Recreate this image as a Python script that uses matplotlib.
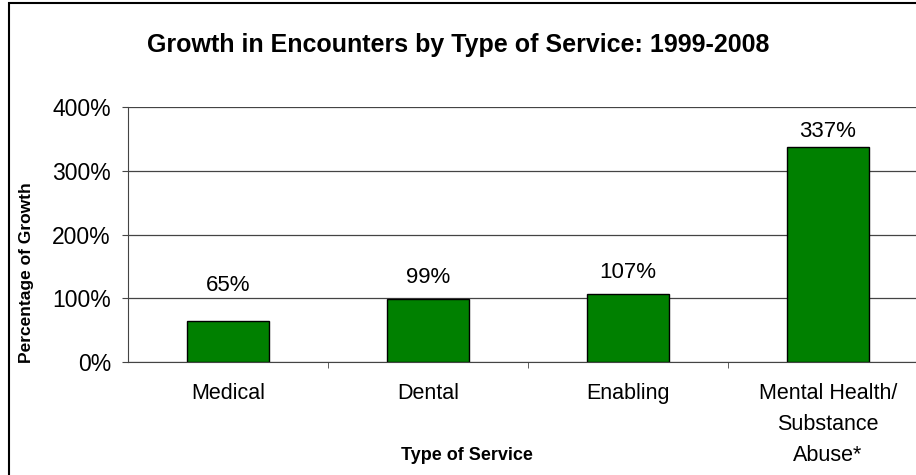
import matplotlib
matplotlib.use("Agg")
import matplotlib.pyplot as plt
from matplotlib.patches import Rectangle
from matplotlib.ticker import FixedLocator

categories = ["Medical", "Dental", "Enabling", "Mental Health/\nSubstance\nAbuse*"]
growth = [65, 99, 107, 337]
value_labels = ["65%", "99%", "107%", "337%"]
yticks = [0, 100, 200, 300, 400]
ytick_labels = ["0%", "100%", "200%", "300%", "400%"]

# label baseline gap above bar top (points) - styling only
label_gaps = [21, 11.5, 11.5, 7]

plt.rcParams['font.family'] = ['Liberation Sans', 'DejaVu Sans']

fig = plt.figure(figsize=(9.16, 4.75), dpi=100)
W, H = 916, 475
ax = fig.add_axes([128 / W, 1 - 362 / H, 800 / W, (362 - 107) / H])

x = list(range(len(categories)))
ax.bar(x, growth, width=0.41, color="#008000", edgecolor="black", linewidth=1.0, zorder=3)
for xi, v, lab, g in zip(x, growth, value_labels, label_gaps):
    ax.annotate(lab, (xi, v), xytext=(0, g), textcoords="offset points",
                ha="center", va="baseline", fontsize=16)

ax.set_xlim(-0.5, 3.5)
ax.set_ylim(0, 400)
ax.set_yticks(yticks)
ax.set_yticklabels(ytick_labels, fontsize=16.5)
ax.set_xticks(x)
ax.set_xticklabels(categories, fontsize=15.5, linespacing=1.62)
ax.tick_params(axis="x", which="major", length=0, pad=15)
ax.xaxis.set_minor_locator(FixedLocator([0.5, 1.5, 2.5]))
ax.tick_params(axis="x", which="minor", length=4.3, direction="out", color="#444444")
ax.tick_params(axis="y", length=4.3, pad=8, direction="out", color="#444444")
ax.yaxis.grid(True, color="#444444", linewidth=0.9, zorder=0)
for s in ["top", "right"]:
    ax.spines[s].set_visible(False)
ax.spines["left"].set_color("#444444")
ax.spines["bottom"].set_color("#444444")

fig.text(458 / W, 1 - 45 / H, "Growth in Encounters by Type of Service: 1999-2008",
         ha="center", va="center", fontsize=18, fontweight="bold")
fig.text(27 / W, 1 - 273 / H, "Percentage of Growth", rotation=90,
         ha="center", va="center", fontsize=12.5, fontweight="bold")
fig.text(467 / W, 1 - 456 / H, "Type of Service", ha="center", va="center",
         fontsize=13, fontweight="bold")

fig.patches.append(Rectangle((9 / W, -0.05), 1.0, 1.05 - 3 / H, transform=fig.transFigure,
                             fill=False, edgecolor="black", linewidth=1.5))

fig.savefig("out.png", dpi=100)
